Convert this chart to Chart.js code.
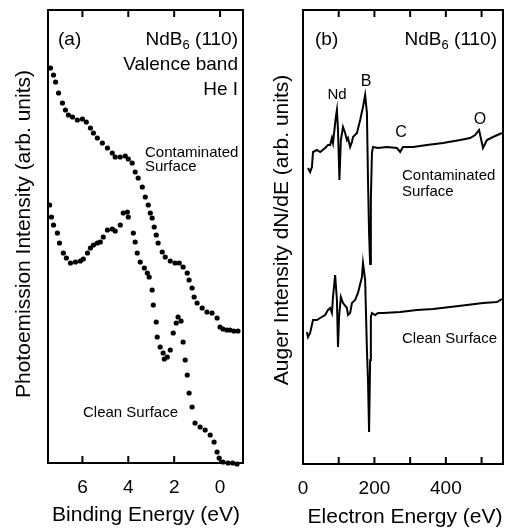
<!DOCTYPE html>
<html>
<head>
<meta charset="utf-8">
<script src="https://cdn.jsdelivr.net/npm/chart.js@4.4.1/dist/chart.umd.min.js"></script>
<style>
  body { margin: 0; background: #fff; }
  canvas { position: absolute; top: 0; }
  #panelA { left: 0; }
  #panelB { left: 257px; }
</style>
</head>
<body>
<canvas id="panelA" width="257" height="529"></canvas>
<canvas id="panelB" width="257" height="529"></canvas>
<script>
// (a) valence band photoemission, He I
const bindingContam = [7.39, 7.26, 7.17, 7.04, 6.87, 6.74, 6.61, 6.43, 6.22, 6.00, 5.83, 5.65, 5.52, 5.35, 5.13, 4.91, 4.70, 4.57, 4.35, 4.13, 4.00, 3.83, 3.70, 3.57, 3.39, 3.26, 3.13, 3.04, 2.96, 2.87, 2.78, 2.70, 2.52, 2.39, 2.17, 1.96, 1.78, 1.61, 1.43, 1.35, 1.22, 1.13, 1.00, 0.78, 0.57, 0.35, 0.13, 0.00, -0.13, -0.30, -0.43, -0.60, -0.78];
const intensityContam = [395, 388, 381, 370, 360, 353, 348, 346, 343, 344, 341, 335, 330, 325, 320, 315, 310, 306, 306, 307, 304, 300, 291, 285, 276, 266, 258, 250, 245, 236, 228, 220, 211, 206, 202, 200, 200, 196, 190, 183, 175, 166, 160, 155, 151, 150, 145, 136, 134, 133, 133, 132, 132];
const bindingClean = [7.43, 7.35, 7.26, 7.09, 7.00, 6.83, 6.70, 6.52, 6.30, 6.09, 5.96, 5.78, 5.65, 5.52, 5.35, 5.22, 5.09, 4.91, 4.70, 4.57, 4.35, 4.22, 4.04, 4.00, 3.78, 3.70, 3.61, 3.48, 3.30, 3.17, 3.09, 2.96, 2.91, 2.78, 2.74, 2.61, 2.48, 2.43, 2.30, 2.17, 2.04, 1.91, 1.83, 1.70, 1.61, 1.52, 1.43, 1.35, 1.22, 1.09, 0.87, 0.65, 0.43, 0.26, 0.13, 0.04, -0.13, -0.35, -0.55, -0.74];
const intensityClean = [258, 246, 238, 230, 220, 210, 205, 200, 201, 202, 204, 210, 215, 218, 220, 221, 226, 233, 234, 232, 238, 250, 251, 246, 230, 221, 210, 201, 195, 190, 186, 173, 158, 141, 126, 116, 110, 104, 106, 113, 130, 140, 146, 142, 121, 103, 88, 70, 56, 40, 36, 33, 28, 21, 11, 5, 1, 0, 0, -1];
const bindingTicks = [6, 4, 2, 0];

// (b) Auger spectra dN/dE
const energyContam = [14, 20, 25, 28, 39, 48, 62, 70, 76, 81, 84, 92, 95, 98, 102, 106, 112, 118, 123, 126, 132, 137, 140, 151, 160, 168, 174, 179, 182, 185, 188, 190, 193, 196, 210, 235, 263, 272, 280, 308, 347, 392, 440, 468, 482, 493, 504, 515, 532, 557];
const augerContam = [296, 292, 297, 312, 314, 312, 316, 319, 319, 326, 321, 347, 354, 334, 284, 324, 337, 331, 324, 326, 317, 322, 327, 331, 344, 357, 369, 351, 284, 231, 200, 264, 311, 317, 316, 317, 316, 312, 317, 317, 319, 321, 324, 326, 329, 334, 316, 324, 327, 331];
const energyClean = [11, 14, 20, 28, 39, 48, 62, 70, 76, 81, 84, 90, 95, 98, 101, 106, 112, 123, 126, 132, 137, 146, 154, 165, 168, 174, 179, 182, 185, 188, 190, 193, 202, 210, 224, 272, 319, 364, 412, 459, 504, 543, 557];
const augerClean = [132, 127, 131, 144, 144, 146, 149, 154, 156, 151, 167, 189, 164, 117, 147, 167, 161, 156, 149, 151, 161, 164, 171, 187, 201, 184, 114, 84, 32, 104, 147, 151, 149, 151, 151, 152, 154, 155, 157, 159, 161, 162, 165];
const energyTicks = [100, 200, 300, 400, 500];
const energyLabels = [0, 200, 400];

const FONT = '"Liberation Sans", Arial, sans-serif';

function pts(xs, ys) {
  return xs.map((x, i) => ({ x: x, y: ys[i] }));
}

function txt(ctx, s, x, y, size, align) {
  ctx.font = size + 'px ' + FONT;
  ctx.textAlign = align || 'left';
  ctx.textBaseline = 'middle';
  ctx.fillText(s, x, y);
}

function vtxt(ctx, s, x, y, size) {
  ctx.save();
  ctx.translate(x, y);
  ctx.rotate(-Math.PI / 2);
  txt(ctx, s, 0, 0, size, 'center');
  ctx.restore();
}

// "NdB6 (110)" right aligned, with subscript
function formula(ctx, right, y) {
  ctx.font = '19px ' + FONT;
  const w1 = ctx.measureText('NdB').width;
  const w3 = ctx.measureText(' (110)').width;
  ctx.font = '13px ' + FONT;
  const w2 = ctx.measureText('6').width;
  let x = right - (w1 + w2 + w3);
  txt(ctx, 'NdB', x, y, 19);
  txt(ctx, '6', x + w1, y + 5, 13);
  txt(ctx, ' (110)', x + w1 + w2, y, 19);
}

function framePlugin(ticks, labels, draw) {
  return {
    id: 'frame',
    afterDraw(chart) {
      const ctx = chart.ctx;
      const a = chart.chartArea;
      const xs = chart.scales.x;
      ctx.save();
      ctx.strokeStyle = '#000';
      ctx.fillStyle = '#000';
      ctx.lineWidth = 2;
      ctx.strokeRect(a.left, a.top, a.right - a.left, a.bottom - a.top);
      ctx.beginPath();
      ticks.forEach(v => {
        const px = xs.getPixelForValue(v);
        ctx.moveTo(px, a.bottom);
        ctx.lineTo(px, a.bottom - 7);
        ctx.moveTo(px, a.top);
        ctx.lineTo(px, a.top + 7);
      });
      ctx.stroke();
      labels.forEach(v => {
        txt(ctx, String(v), xs.getPixelForValue(v), a.bottom + 25, 19, 'center');
      });
      draw(ctx, a);
      ctx.restore();
    }
  };
}

function baseOptions(xmin, xmax, reverse, ymax) {
  return {
    responsive: false,
    animation: false,
    events: [],
    plugins: { legend: { display: false }, tooltip: { enabled: false } },
    scales: {
      x: { type: 'linear', display: false, min: xmin, max: xmax, reverse: reverse },
      y: { type: 'linear', display: false, min: 0, max: ymax }
    }
  };
}

const optA = baseOptions(-1, 7.5, true, 453);
optA.layout = { padding: { left: 48, right: 14, top: 10, bottom: 66 } };

new Chart(document.getElementById('panelA'), {
  type: 'scatter',
  data: {
    datasets: [
      { data: pts(bindingContam, intensityContam), backgroundColor: '#000', borderColor: '#000', pointRadius: 2.6, pointBorderWidth: 0, clip: false },
      { data: pts(bindingClean, intensityClean), backgroundColor: '#000', borderColor: '#000', pointRadius: 2.6, pointBorderWidth: 0, clip: false }
    ]
  },
  options: optA,
  plugins: [framePlugin(bindingTicks, bindingTicks, (ctx, a) => {
    txt(ctx, '(a)', 58, 40, 19);
    formula(ctx, 238, 40);
    txt(ctx, 'Valence band', 238, 65, 19, 'right');
    txt(ctx, 'He I', 238, 90, 19, 'right');
    txt(ctx, 'Contaminated', 145, 153, 15);
    txt(ctx, 'Surface', 145, 167, 15);
    txt(ctx, 'Clean Surface', 83, 413, 15);
    txt(ctx, 'Binding Energy (eV)', 146, 515, 21, 'center');
    vtxt(ctx, 'Photoemission Intensity (arb. units)', 24, 234, 21);
  })]
});

const optB = baseOptions(0, 560, false, 454);
optB.layout = { padding: { left: 46, right: 11, top: 10, bottom: 65 } };

new Chart(document.getElementById('panelB'), {
  type: 'line',
  data: {
    datasets: [
      { data: pts(energyContam, augerContam), borderColor: '#000', borderWidth: 2, pointRadius: 0, tension: 0, fill: false },
      { data: pts(energyClean, augerClean), borderColor: '#000', borderWidth: 2, pointRadius: 0, tension: 0, fill: false }
    ]
  },
  options: optB,
  plugins: [framePlugin(energyTicks, energyLabels, (ctx, a) => {
    // coordinates relative to this canvas (offset 257)
    txt(ctx, '(b)', 315 - 257, 40, 19);
    formula(ctx, 497 - 257, 40);
    txt(ctx, 'Nd', 337 - 257, 95, 15, 'center');
    txt(ctx, 'B', 366 - 257, 82, 16, 'center');
    txt(ctx, 'C', 401 - 257, 133, 16, 'center');
    txt(ctx, 'O', 480 - 257, 120, 16, 'center');
    txt(ctx, 'Contaminated', 402 - 257, 176, 15);
    txt(ctx, 'Surface', 402 - 257, 192, 15);
    txt(ctx, 'Clean Surface', 402 - 257, 339, 15);
    txt(ctx, 'Electron Energy (eV)', 405 - 257, 517, 21, 'center');
    vtxt(ctx, 'Auger Intensity dN/dE (arb. units)', 282 - 257, 230, 21);
  })]
});
</script>
</body>
</html>
